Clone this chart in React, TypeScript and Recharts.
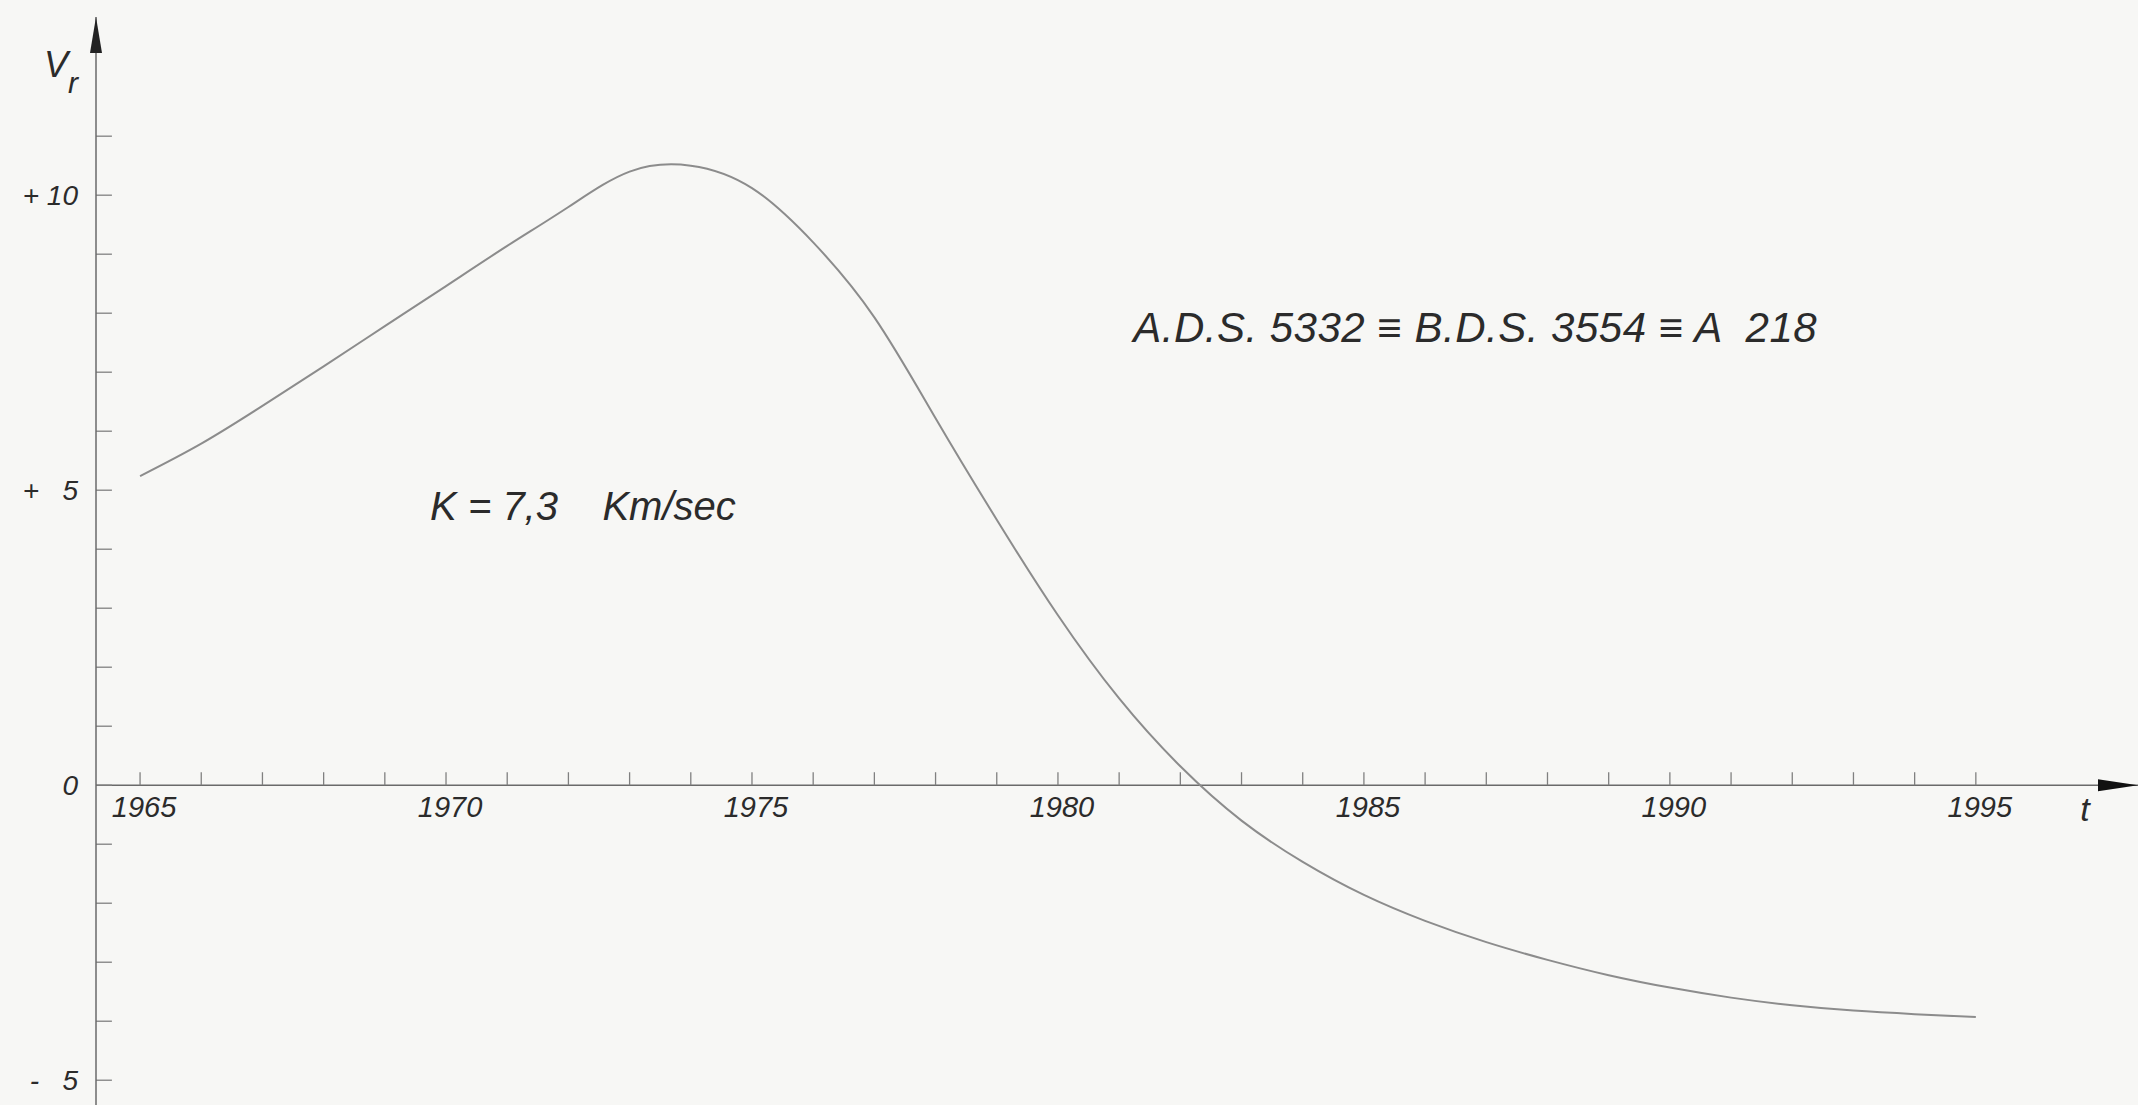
import React from 'react';
import { LineChart, Line, XAxis, YAxis, ReferenceLine, ReferenceDot } from 'recharts';

// radial velocity curve, one reading per year
const years = [
  1965, 1966, 1967, 1968, 1969, 1970, 1971, 1972, 1973, 1974, 1975, 1976, 1977, 1978, 1979, 1980,
  1981, 1982, 1983, 1984, 1985, 1986, 1987, 1988, 1989, 1990, 1991, 1992, 1993, 1994, 1995,
];
const vr = [
  5.24, 5.79, 6.43, 7.1, 7.78, 8.46, 9.14, 9.8, 10.4, 10.5, 10.12, 9.2, 7.93, 6.22, 4.5, 2.88,
  1.47, 0.32, -0.6, -1.3, -1.86, -2.3, -2.66, -2.96, -3.22, -3.43, -3.6, -3.73, -3.82, -3.88, -3.93,
];

const yTickValues = [-5, 0, 5, 10];
const yTickLabels = ['-   5', '0', '+   5', '+ 10'];
const yMinorTicks = [-5, -4, -3, -2, -1, 0, 1, 2, 3, 4, 5, 6, 7, 8, 9, 10, 11];
const xLabelYears = [1965, 1970, 1975, 1980, 1985, 1990, 1995];

const data = years.map((year, i) => ({ year, vr: vr[i] }));

const X_MIN = 1964.28;
const X_MAX = 1997.65;
const Y_MIN = -5.42;
const Y_MAX = 13.02;

const FONT = '"Liberation Sans", Arial, sans-serif';
const INK = '#2b2b2b';
const AXIS = '#6a6a6a';

const YTick = ({ x, y, payload }: any) => {
  const i = yTickValues.indexOf(payload.value);
  return (
    <text x={x} y={y} dy="0.36em" textAnchor="end" fontFamily={FONT} fontStyle="italic" fontSize={28} fill={INK} style={{ whiteSpace: 'pre' }}>
      {yTickLabels[i]}
    </text>
  );
};

export default function App() {
  return (
    <div style={{ position: 'absolute', left: 0, top: 0, width: 2138, height: 1105, background: '#f7f7f5' }}>
      <LineChart width={2138} height={1105} data={data} margin={{ top: 17, right: 0, bottom: 0, left: 0 }}>
        <XAxis dataKey="year" type="number" domain={[X_MIN, X_MAX]} hide allowDataOverflow />
        <YAxis
          type="number"
          domain={[Y_MIN, Y_MAX]}
          ticks={yTickValues}
          width={96}
          tickLine={false}
          tickSize={0}
          tickMargin={18}
          tick={<YTick />}
          axisLine={{ stroke: AXIS, strokeWidth: 1.5 }}
          allowDataOverflow
        />

        {/* horizontal time axis through zero */}
        <ReferenceLine y={0} stroke={AXIS} strokeWidth={1.5} />

        {years.map((yr) => (
          <ReferenceLine key={'xt' + yr} segment={[{ x: yr, y: 0 }, { x: yr, y: 0.22 }]} stroke="#808080" strokeWidth={1.3} />
        ))}
        {yMinorTicks.map((v) => (
          <ReferenceLine key={'yt' + v} segment={[{ x: X_MIN, y: v }, { x: X_MIN + 0.26, y: v }]} stroke="#808080" strokeWidth={1.3} />
        ))}

        {xLabelYears.map((yr) => (
          <ReferenceDot
            key={'xl' + yr}
            x={yr}
            y={0}
            r={0}
            ifOverflow="visible"
            shape={(p: any) => (
              <text x={p.cx + 4} y={p.cy + 32} textAnchor="middle" fontFamily={FONT} fontStyle="italic" fontSize={29} fill={INK}>
                {yr}
              </text>
            )}
          />
        ))}

        {/* arrow heads and axis names */}
        <ReferenceDot
          x={X_MAX}
          y={0}
          r={0}
          ifOverflow="visible"
          shape={(p: any) => (
            <g>
              <polygon points={`${p.cx},${p.cy} ${p.cx - 40},${p.cy - 6} ${p.cx - 40},${p.cy + 6}`} fill="#111" />
              <text x={p.cx - 53} y={p.cy + 36} textAnchor="middle" fontFamily={FONT} fontStyle="italic" fontSize={34} fill={INK}>
                t
              </text>
            </g>
          )}
        />
        <ReferenceDot
          x={X_MIN}
          y={Y_MAX}
          r={0}
          ifOverflow="visible"
          shape={(p: any) => (
            <g>
              <polygon points={`${p.cx},${p.cy} ${p.cx - 6},${p.cy + 36} ${p.cx + 6},${p.cy + 36}`} fill="#222" />
              <text x={p.cx - 52} y={p.cy + 60} fontFamily={FONT} fontStyle="italic" fontSize={36} fill={INK}>
                V
              </text>
              <text x={p.cx - 28} y={p.cy + 76} fontFamily={FONT} fontStyle="italic" fontSize={30} fill={INK}>
                r
              </text>
            </g>
          )}
        />

        {/* annotations */}
        <ReferenceDot
          x={1969.74}
          y={4.49}
          r={0}
          ifOverflow="visible"
          shape={(p: any) => (
            <text x={p.cx} y={p.cy} fontFamily={FONT} fontStyle="italic" fontSize={40} fill={INK} style={{ whiteSpace: 'pre' }}>
              {'K = 7,3    Km/sec'}
            </text>
          )}
        />
        <ReferenceDot
          x={1981.23}
          y={7.51}
          r={0}
          ifOverflow="visible"
          shape={(p: any) => (
            <text x={p.cx} y={p.cy} fontFamily={FONT} fontStyle="italic" fontSize={42} letterSpacing={0.5} fill={INK} style={{ whiteSpace: 'pre' }}>
              {'A.D.S. 5332 \u2261 B.D.S. 3554 \u2261 A  218'}
            </text>
          )}
        />

        <Line type="natural" dataKey="vr" stroke="#8c8c8c" strokeWidth={2} dot={false} isAnimationActive={false} />
      </LineChart>
    </div>
  );
}
